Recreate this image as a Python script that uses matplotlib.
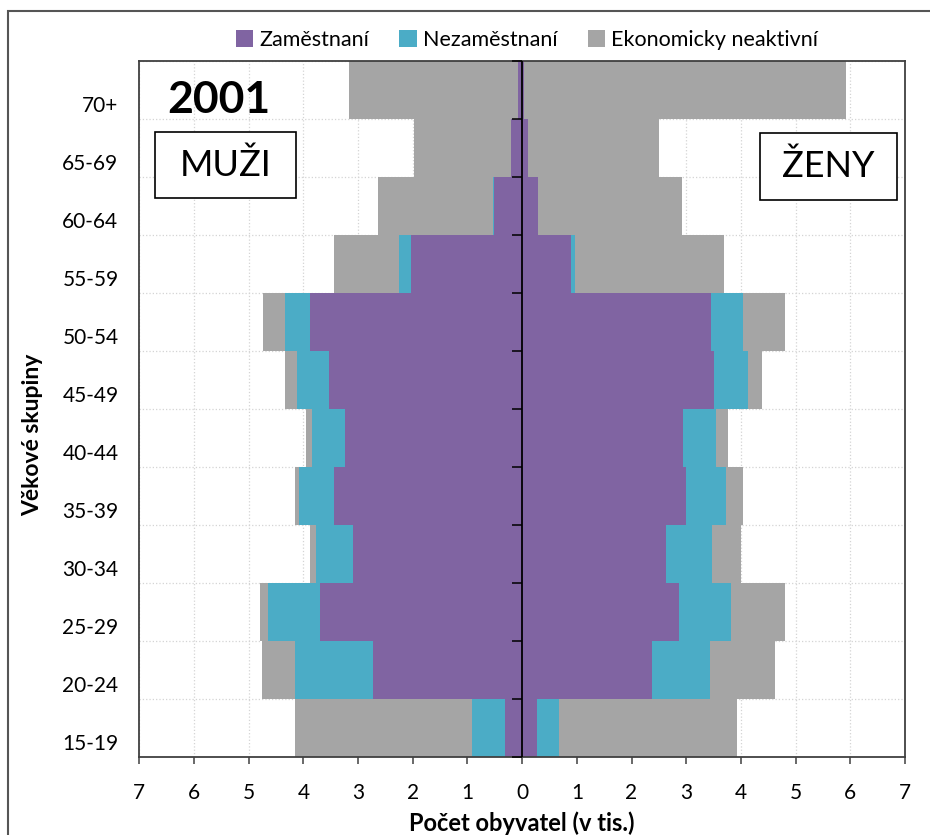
import matplotlib
matplotlib.use("Agg")
import matplotlib.pyplot as plt
from matplotlib.patches import Patch, Rectangle
from matplotlib.transforms import ScaledTranslation
from matplotlib.ticker import FuncFormatter
from matplotlib.markers import TICKLEFT
import numpy as np

plt.rcParams['font.family'] = ['Lato', 'DejaVu Sans']

categories = ['15-19', '20-24', '25-29', '30-34', '35-39', '40-44',
              '45-49', '50-54', '55-59', '60-64', '65-69', '70+']
male_employed = [0.32, 2.73, 3.69, 3.10, 3.44, 3.24, 3.54, 3.87, 2.03, 0.52, 0.21, 0.07]
male_unemployed = [0.59, 1.42, 0.95, 0.67, 0.64, 0.60, 0.57, 0.47, 0.23, 0.01, 0.00, 0.00]
male_inactive = [3.24, 0.60, 0.15, 0.10, 0.08, 0.11, 0.22, 0.40, 1.18, 2.10, 1.76, 3.10]
female_employed = [0.28, 2.37, 2.87, 2.63, 2.99, 2.94, 3.50, 3.45, 0.89, 0.29, 0.11, 0.03]
female_unemployed = [0.39, 1.07, 0.95, 0.85, 0.73, 0.61, 0.63, 0.58, 0.07, 0.00, 0.00, 0.00]
female_inactive = [3.25, 1.18, 0.99, 0.53, 0.31, 0.21, 0.26, 0.77, 2.73, 2.63, 2.40, 5.89]
series_names = ['Zaměstnaní', 'Nezaměstnaní', 'Ekonomicky neaktivní']
colors = ['#8064A2', '#4BACC6', '#A5A5A5']
x_ticks = list(range(-7, 8))

W, H = 930, 835
fig = plt.figure(figsize=(W / 100, H / 100), dpi=100)
ax = fig.add_axes([139.3 / W, 1 - 757 / H, (905 - 139.3) / W, (757 - 61) / H])

y = np.arange(len(categories))
male_parts = [np.array(male_employed), np.array(male_unemployed), np.array(male_inactive)]
female_parts = [np.array(female_employed), np.array(female_unemployed), np.array(female_inactive)]
left_m = np.zeros(len(y))
left_f = np.zeros(len(y))
for k in range(3):
    ax.barh(y, -male_parts[k], left=-left_m, height=1.0, color=colors[k],
            edgecolor='none', zorder=2)
    ax.barh(y, female_parts[k], left=left_f, height=1.0, color=colors[k],
            edgecolor='none', zorder=2)
    left_m += male_parts[k]
    left_f += female_parts[k]

ax.set_xlim(-7, 7)
ax.set_ylim(-0.5, len(categories) - 0.5)
ax.set_xticks(x_ticks)
ax.xaxis.set_major_formatter(FuncFormatter(lambda v, p: f"{abs(int(round(v)))}"))
ax.set_yticks(y)
ax.set_yticklabels(categories)
boundaries = np.arange(len(categories) + 1) - 0.5
ax.set_yticks(boundaries, minor=True)

ax.set_axisbelow(True)
ax.grid(True, axis='x', which='major', color='#d4d4d4', linestyle=':', linewidth=0.9)
ax.grid(True, axis='y', which='minor', color='#d4d4d4', linestyle=':', linewidth=0.9)
ax.grid(False, axis='y', which='major')

ax.tick_params(axis='x', which='major', direction='out', length=5, width=1.1,
               color='#404040', labelsize=15, pad=14)
ax.tick_params(axis='y', which='both', length=0, labelsize=15, pad=15)

for lab in ax.get_yticklabels():
    lab.set_transform(lab.get_transform() + ScaledTranslation(0, -0.14, fig.dpi_scale_trans))

for s in ax.spines.values():
    s.set_color('#404040')
    s.set_linewidth(1.3)

# center vertical axis with ticks at category boundaries
ax.axvline(0, color='black', linewidth=1.3, zorder=5)
ax.plot(np.zeros(len(boundaries)), boundaries, linestyle='none', marker=TICKLEFT,
        markersize=7, markeredgewidth=1.1, color='black', zorder=5, clip_on=False)

# annotations
fig.text(219 / W, 1 - 100 / H, '2001', fontsize=32, fontweight='bold',
         ha='center', va='center')
fig.add_artist(Rectangle((155 / W, 1 - 198 / H), 141 / W, 66 / H,
                         transform=fig.transFigure, facecolor='white',
                         edgecolor='black', linewidth=1.2, zorder=5))
fig.text(225.5 / W, 1 - 165 / H, 'MUŽI', fontsize=26, ha='center', va='center', zorder=6)
fig.add_artist(Rectangle((760 / W, 1 - 200 / H), 137 / W, 67 / H,
                         transform=fig.transFigure, facecolor='white',
                         edgecolor='black', linewidth=1.2, zorder=5))
fig.text(828.5 / W, 1 - 166.5 / H, 'ŽENY', fontsize=26, ha='center', va='center', zorder=6)

fig.text(33 / W, 1 - 435 / H, 'Věkové skupiny', fontsize=16.5, fontweight='bold',
         rotation=90, ha='center', va='center')
fig.text(522 / W, 1 - 823 / H, 'Počet obyvatel (v tis.)', fontsize=17, fontweight='bold',
         ha='center', va='center')

handles = [Patch(facecolor=c, edgecolor='none', label=n) for c, n in zip(colors, series_names)]
fig.legend(handles=handles, loc='center', bbox_to_anchor=(527 / W, 1 - 40 / H), ncol=3,
           frameon=False, fontsize=15.5, handlelength=0.8, handleheight=0.8,
           handletextpad=0.3, columnspacing=1.4)

# outer frame
fig.add_artist(Rectangle((8 / W, -0.2), 1.2, 1.2 - 11 / H, transform=fig.transFigure,
                         facecolor='none', edgecolor='#555555', linewidth=1.5))

fig.savefig('out.png', dpi=100)
